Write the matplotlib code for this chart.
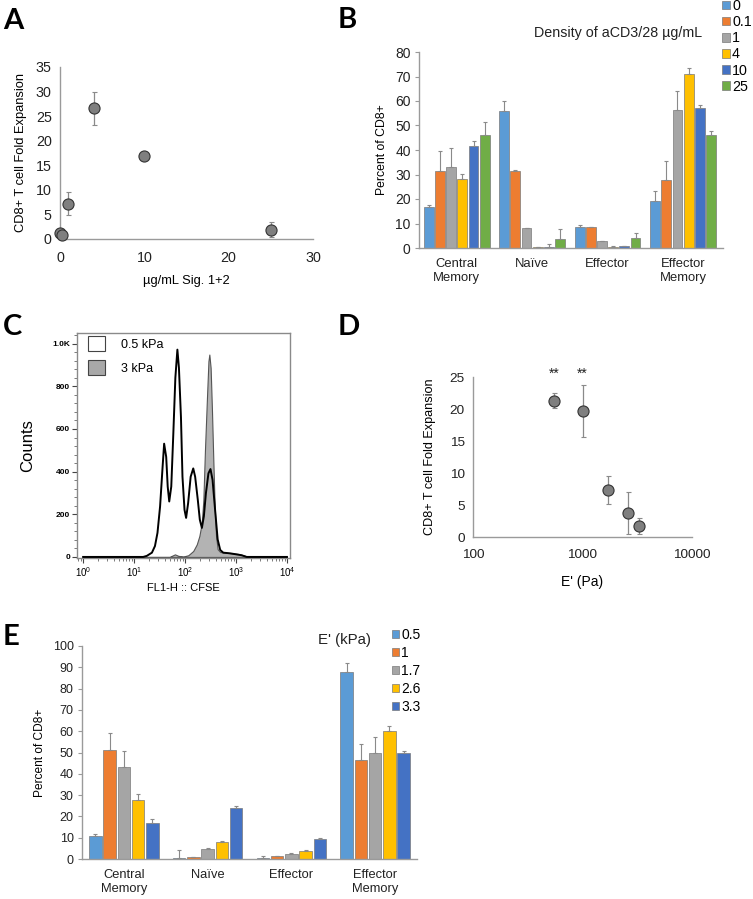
import matplotlib
matplotlib.use('Agg')
import matplotlib.pyplot as plt
import numpy as np
from matplotlib.patches import Patch
from matplotlib.ticker import MultipleLocator, FixedLocator, LogLocator, NullFormatter, FuncFormatter, NullLocator

plt.rcParams['font.family'] = ['Liberation Sans', 'DejaVu Sans']

# ---------------- data ----------------
# Panel A
a_conc = [0, 0.2, 1, 4, 10, 25]
a_fold = [1.2, 0.9, 7.2, 26.6, 16.8, 1.9]
a_err = [0.3, 0.2, 2.3, 3.4, 0.2, 1.5]

# Panel B
categories = ['Central\nMemory', 'Naïve', 'Effector', 'Effector\nMemory']
b_labels = ['0', '0.1', '1', '4', '10', '25']
b_vals = [
    [16.7, 56.0, 8.4, 19.0],
    [31.6, 31.6, 8.5, 27.8],
    [32.9, 8.0, 2.8, 56.3],
    [28.1, 0.4, 0.5, 71.2],
    [41.8, 0.5, 0.7, 57.1],
    [46.0, 3.7, 4.2, 46.1],
]
b_errs = [
    [0.9, 3.8, 0.9, 4.2],
    [7.9, 0.2, 0.2, 7.9],
    [8.0, 0.0, 0.0, 7.8],
    [2.1, 0.0, 0.2, 2.3],
    [1.9, 1.1, 0.3, 1.1],
    [5.3, 4.0, 1.8, 1.6],
]
b_colors = ['#5B9BD5', '#ED7D31', '#A5A5A5', '#FFC000', '#4472C4', '#70AD47']

# Panel C (CFSE histograms)
c05_cfse = [1, 10, 15.1, 17.8, 22.4, 25.7, 28.8, 32.4, 36.3, 38.9, 42.7, 45.7, 49.0, 53.7,
            58.9, 64.6, 70.8, 75.9, 83.2, 89.1, 97.7, 105, 115, 129, 145, 158, 178, 195,
            214, 234, 257, 288, 316, 347, 389, 437, 490, 562, 759, 1023, 1288, 1622, 10000]
c05_counts = [0, 0, 0, 5, 20, 51, 113, 237, 423, 531, 469, 330, 260, 330,
              577, 840, 972, 887, 655, 376, 221, 183, 252, 376, 415, 376, 268, 175,
              136, 190, 299, 392, 412, 361, 221, 82, 33, 20, 17, 12, 8, 0, 0]
c3_cfse = [1, 50, 54.9, 63.4, 74, 93, 116, 145, 170, 191, 213, 229, 246, 268, 288, 300,
           318, 338, 359, 382, 406, 437, 490, 605, 826, 1116, 1388, 1740, 10000]
c3_counts = [0, 0, 5, 12, 5, 2, 8, 28, 59, 98, 159, 268, 500, 732, 918, 949,
             887, 685, 454, 237, 98, 36, 23, 20, 17, 14, 8, 0, 0]
c_labels = ['0.5 kPa', '3 kPa']

# Panel D
d_modulus = [550, 1000, 1700, 2600, 3300]
d_fold = [21.3, 19.7, 7.4, 3.7, 1.7]
d_err = [1.2, 4.1, 2.2, 3.3, 1.25]
d_sig = ['**', '**', '', '', '']

# Panel E
e_labels = ['0.5', '1', '1.7', '2.6', '3.3']
e_vals = [
    [10.8, 0.3, 0.6, 87.8],
    [51.3, 0.8, 1.2, 46.6],
    [43.0, 4.8, 2.3, 49.6],
    [27.9, 8.2, 3.6, 60.1],
    [16.7, 24.0, 9.2, 49.8],
]
e_errs = [
    [1.0, 4.0, 1.0, 4.2],
    [7.8, 0.2, 0.1, 7.5],
    [7.8, 0.2, 0.3, 7.6],
    [2.4, 0.1, 0.4, 2.3],
    [2.1, 1.0, 0.6, 0.9],
]
e_colors = ['#5B9BD5', '#ED7D31', '#A5A5A5', '#FFC000', '#4472C4']

# ---------------- figure ----------------
W, H = 753, 899
fig = plt.figure(figsize=(W / 100, H / 100), dpi=100)


def ax_px(l, t, r, b):
    return fig.add_axes([l / W, 1 - b / H, (r - l) / W, (b - t) / H])


AXC = '#9a9a9a'
TXT = '#222222'


def excel_axes(ax, yticks=False):
    for s in ['top', 'right']:
        ax.spines[s].set_visible(False)
    for s in ['left', 'bottom']:
        ax.spines[s].set_color(AXC)
        ax.spines[s].set_linewidth(1.0)
    ax.tick_params(length=0, colors=TXT)
    if yticks:
        ax.tick_params(axis='y', length=3, width=0.8, color=AXC)


def panel_label(x, y, s):
    fig.text(x / W, 1 - y / H, s, fontsize=21, fontweight='bold',
             family=['Lato', 'Liberation Sans', 'DejaVu Sans'], va='baseline', ha='left')


# Panel A
axA = ax_px(60, 67, 313, 239)
excel_axes(axA)
axA.errorbar(a_conc, a_fold, yerr=a_err, fmt='o', ms=8, mfc='#7f7f7f', mec='#333333',
             mew=0.8, ecolor='#8a8a8a', elinewidth=0.9, capsize=1.8, clip_on=False, zorder=3)
axA.set_xlim(0, 30)
axA.set_ylim(0, 35)
axA.xaxis.set_major_locator(MultipleLocator(10))
axA.yaxis.set_major_locator(MultipleLocator(5))
axA.tick_params(labelsize=10.3, pad=6)
axA.tick_params(axis='x', pad=9)
axA.set_ylabel('CD8+ T cell Fold Expansion', fontsize=9.3, labelpad=6)
axA.set_xlabel('µg/mL Sig. 1+2', fontsize=9.3, labelpad=7)
panel_label(3, 29, 'A')


def grouped_bars(ax, vals, errs, colors, labels, group_frac):
    n = len(vals)
    slot = group_frac / n
    xs = np.arange(len(categories))
    handles = []
    for i in range(n):
        pos = xs + (i - (n - 1) / 2) * slot
        bc = ax.bar(pos, vals[i], width=slot * 0.88, color=colors[i], edgecolor='#7a7a7a',
                    linewidth=0.5, label=labels[i], zorder=2)
        ax.errorbar(pos, vals[i], yerr=[np.zeros(len(errs[i])), errs[i]], fmt='none',
                    ecolor='#8a8a8a', elinewidth=0.8, capsize=1.3, capthick=0.8, zorder=3)
        handles.append(bc)
    ax.set_xticks(xs)
    ax.set_xticklabels(categories)
    ax.set_xlim(-0.5, 3.53)
    return handles


# Panel B
axB = ax_px(419, 52, 723, 248)
excel_axes(axB, yticks=True)
hB = grouped_bars(axB, b_vals, b_errs, b_colors, b_labels, 0.89)
axB.set_ylim(0, 80)
axB.yaxis.set_major_locator(MultipleLocator(10))
axB.tick_params(axis='y', labelsize=10, pad=3)
axB.tick_params(axis='x', labelsize=9.4, pad=7)
axB.set_ylabel('Percent of CD8+', fontsize=8.8, labelpad=5)
fig.text(618 / W, 1 - 33 / H, 'Density of aCD3/28 µg/mL', fontsize=10.3, ha='center', va='center', color=TXT)
fig.legend(handles=hB, labels=b_labels, loc='upper left', bbox_to_anchor=(722 / W, 1 - (-1) / H),
           frameon=False, fontsize=10.3, handlelength=0.55, handleheight=0.55, handletextpad=0.15,
           labelspacing=0.15, borderpad=0, borderaxespad=0)
panel_label(338, 28, 'B')

# Panel C
axC = ax_px(77, 333, 290, 558)
axC.fill_between(c3_cfse, c3_counts, color='#b3b3b3', edgecolor='#555555', linewidth=0.8, zorder=2)
axC.plot(c05_cfse, c05_counts, color='black', linewidth=1.4, zorder=3)
axC.set_xscale('log')
axC.set_xlim(10 ** -0.12, 10 ** 4.06)
axC.set_ylim(-5, 1050)
for s in axC.spines.values():
    s.set_color('#8a8a8a')
    s.set_linewidth(1.0)
axC.xaxis.set_major_locator(LogLocator(base=10, numticks=10))
axC.xaxis.set_minor_locator(LogLocator(base=10, subs=np.arange(2, 10), numticks=10))
axC.xaxis.set_minor_formatter(NullFormatter())
axC.yaxis.set_major_locator(FixedLocator([0, 200, 400, 600, 800, 1000]))
axC.yaxis.set_minor_locator(MultipleLocator(40))
axC.yaxis.set_major_formatter(FuncFormatter(lambda v, p: '1.0K' if v == 1000 else f'{int(v)}'))
axC.tick_params(which='major', length=3.5, width=0.8, labelsize=6, pad=1.5, colors='#444444')
axC.tick_params(axis='x', which='major', labelsize=7)
axC.tick_params(which='minor', length=2, width=0.6, colors='#666666')
for lab in axC.get_yticklabels():
    lab.set_fontweight('bold')
    lab.set_color('black')
for lab in axC.get_xticklabels():
    lab.set_color('black')
axC.set_ylabel('Counts', fontsize=12, labelpad=12)
axC.set_xlabel('FL1-H :: CFSE', fontsize=8, labelpad=3)
c_handles = [Patch(facecolor='white', edgecolor='#444444', linewidth=0.8),
             Patch(facecolor='#a8a8a8', edgecolor='#444444', linewidth=0.8)]
axC.legend(handles=c_handles, labels=c_labels, loc='upper left', bbox_to_anchor=(0.05, 0.985),
           frameon=False, fontsize=9, handlelength=1.4, handleheight=1.4, handletextpad=1.3,
           labelspacing=0.75, borderpad=0, borderaxespad=0)
panel_label(3, 335, 'C')

# Panel D
axD = ax_px(473, 377, 692, 537)
excel_axes(axD)
axD.errorbar(d_modulus, d_fold, yerr=d_err, fmt='o', ms=8, mfc='#7f7f7f', mec='#333333',
             mew=0.8, ecolor='#8a8a8a', elinewidth=0.9, capsize=1.8, zorder=3)
for xm, s in zip(d_modulus, d_sig):
    if s:
        axD.text(xm, 25.5, s, ha='center', va='center', fontsize=10, color=TXT)
axD.set_xscale('log')
axD.set_xlim(100, 10000)
axD.set_ylim(0, 25)
axD.xaxis.set_major_locator(FixedLocator([100, 1000, 10000]))
axD.xaxis.set_minor_locator(NullLocator())
axD.xaxis.set_major_formatter(FuncFormatter(lambda v, p: f'{int(v)}'))
axD.yaxis.set_major_locator(MultipleLocator(5))
axD.tick_params(labelsize=9.7, pad=6)
axD.tick_params(axis='x', pad=9)
axD.set_ylabel('CD8+ T cell Fold Expansion', fontsize=9.1, labelpad=10)
axD.set_xlabel("E' (Pa)", fontsize=10, labelpad=10)
panel_label(338, 335, 'D')

# Panel E
axE = ax_px(82, 646, 417, 859)
excel_axes(axE, yticks=True)
hE = grouped_bars(axE, e_vals, e_errs, e_colors, e_labels, 0.85)
axE.set_xlim(-0.5, 3.5)
axE.set_ylim(0, 100)
axE.yaxis.set_major_locator(MultipleLocator(10))
axE.tick_params(axis='y', labelsize=9, pad=3)
axE.tick_params(axis='x', labelsize=9.3, pad=7)
axE.set_ylabel('Percent of CD8+', fontsize=8.6, labelpad=5)
fig.text(344 / W, 1 - 640 / H, "E' (kPa)", fontsize=10.8, ha='center', va='center', color=TXT)
fig.legend(handles=hE, labels=e_labels, loc='upper left', bbox_to_anchor=(392 / W, 1 - 628 / H),
           frameon=False, fontsize=10, handlelength=0.5, handleheight=0.5, handletextpad=0.15,
           labelspacing=0.28, borderpad=0, borderaxespad=0)
panel_label(3, 645, 'E')

fig.savefig('out.png', dpi=100)
